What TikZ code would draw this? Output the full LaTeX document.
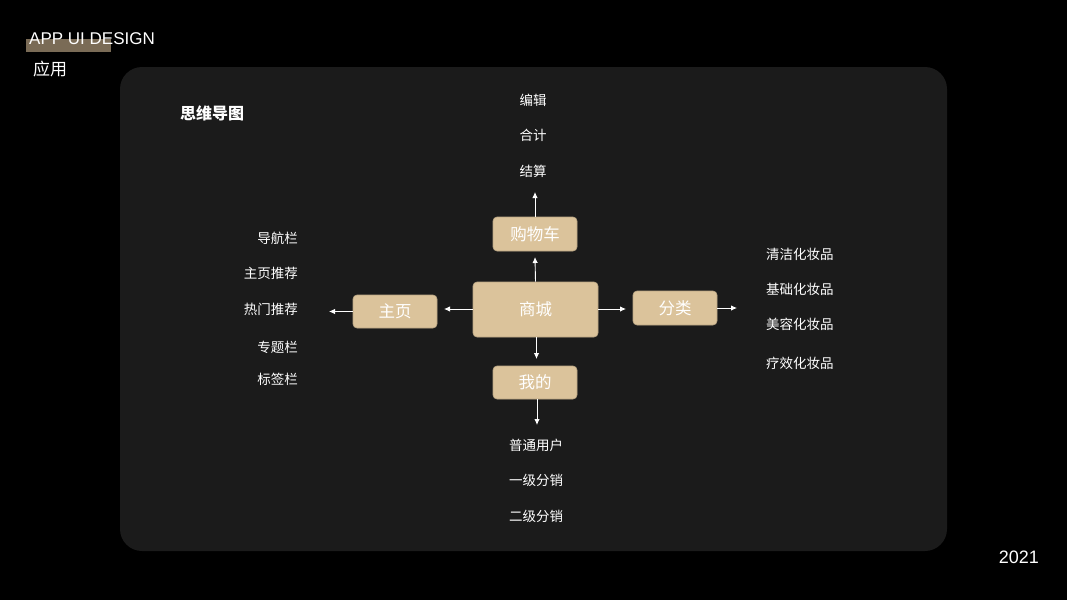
\documentclass[tikz,border=0pt]{standalone}
\usepackage{fontspec}
\setmainfont{Noto Sans CJK SC}
\newfontfamily\latinfont{Liberation Sans}
\usetikzlibrary{arrows.meta}

\definecolor{paneldark}{HTML}{1B1B1B}
\definecolor{nodetan}{HTML}{DBC39B}
\definecolor{bartan}{HTML}{7A6B56}

\tikzset{
	box/.style={rounded corners=4pt, fill=nodetan, draw=nodetan!85!black, line width=0.6pt,
		text=white, font=\fontsize{16.5}{18}\selectfont, inner sep=0pt},
	item/.style={text=white, font=\fontsize{13.5}{15}\selectfont, inner sep=1pt},
	link/.style={draw=white, line width=0.9pt, -{Latex[length=6pt,width=5.5pt]}},
}

\begin{document}
\begin{tikzpicture}[x=1pt,y=-1pt]
		\useasboundingbox (0,0) rectangle (1067,600);
		\fill[black] (0,0) rectangle (1067,600);
		% header
		\fill[bartan] (26,39) rectangle (111,52);
		\node[anchor=west, text=white, inner sep=0pt, font=\latinfont\fontsize{17}{19}\selectfont] (title) at (29,39) {APP UI DESIGN};
		\node[anchor=west, text=white, inner sep=0pt, font=\fontsize{17}{19}\selectfont] (sub) at (33,69) {应用};
		\node[anchor=east, text=white, inner sep=0pt, font=\latinfont\fontsize{18}{20}\selectfont] (year) at (1039,557) {2021};
		% panel
		\fill[paneldark, rounded corners=22pt] (120,67) rectangle (947,551);
		\node[anchor=west, text=white, inner sep=0pt, font=\bfseries\fontsize{16}{18}\selectfont] (head) at (180,113) {思维导图};
		% boxes
		\node[box, minimum width=125pt, minimum height=55pt] (mall) at (535.5,309.5) {商城};
		\node[box, minimum width=84pt, minimum height=34pt] (cart) at (535,234) {购物车};
		\node[box, minimum width=84pt, minimum height=33pt] (home) at (395,311.5) {主页};
		\node[box, minimum width=84pt, minimum height=34pt] (sort) at (675,308) {分类};
		\node[box, minimum width=84pt, minimum height=33pt] (mine) at (535,382.5) {我的};
		% lists
		\foreach \t [count=\i] in {编辑,合计,结算}{
			\node[item] (up\i) at (533,100+35.5*\i-35.5) {\t};
		}
		\foreach \t/\y [count=\i] in {导航栏/238,主页推荐/273,热门推荐/309,专题栏/347,标签栏/379}{
			\node[item, anchor=east] (lf\i) at (299,\y) {\t};
		}
		\foreach \t/\y [count=\i] in {清洁化妆品/254,基础化妆品/289,美容化妆品/324,疗效化妆品/363}{
			\node[item, anchor=west] (rt\i) at (765,\y) {\t};
		}
		\foreach \t [count=\i] in {普通用户,一级分销,二级分销}{
			\node[item] (dn\i) at (536,445+35.5*\i-35.5) {\t};
		}
		% arrows
		\coordinate (a1) at (535,257);
		\coordinate (a2) at (535,192);
		\coordinate (a3) at (444,309);
		\coordinate (a4) at (329,311.5);
		\coordinate (a5) at (626,309);
		\coordinate (a6) at (737,308);
		\coordinate (a7) at (536.5,359);
		\coordinate (a8) at (537,425);
		\draw[link] (mall.north) -- (a1);
		\draw[link] (cart.north) -- (a2);
		\draw[link] (mall.west |- a3) -- (a3);
		\draw[link] (home.west) -- (a4);
		\draw[link] (mall.east |- a5) -- (a5);
		\draw[link] (sort.east) -- (a6);
		\draw[link] (mall.south -| a7) -- (a7);
		\draw[link] (mine.south -| a8) -- (a8);
	\end{tikzpicture}
\end{document}
